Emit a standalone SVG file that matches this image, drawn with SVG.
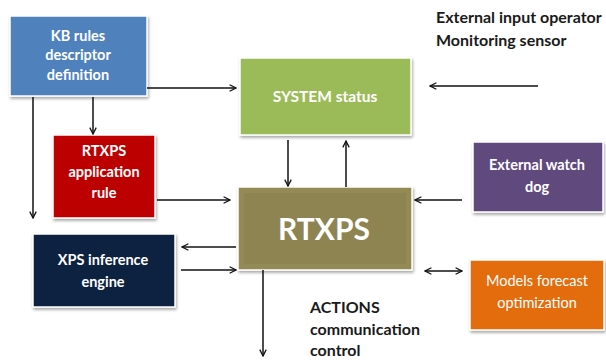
<svg xmlns="http://www.w3.org/2000/svg" width="606" height="360" viewBox="0 0 606 360">
<defs>
<filter id="sh" x="-10%" y="-10%" width="125%" height="130%">
<feGaussianBlur in="SourceAlpha" stdDeviation="1.5"/>
<feOffset dx="1" dy="2" result="b"/>
<feComponentTransfer><feFuncA type="linear" slope="0.35"/></feComponentTransfer>
<feMerge><feMergeNode/><feMergeNode in="SourceGraphic"/></feMerge>
</filter>
<marker id="ah" viewBox="0 0 10 10" refX="9" refY="5" markerWidth="8" markerHeight="8" orient="auto-start-reverse" markerUnits="userSpaceOnUse">
<path d="M1,1 L9,5 L1,9" fill="none" stroke="#111" stroke-width="1.6"/>
</marker>
</defs>
<style>
.box{stroke:#fff;stroke-width:1.5;filter:url(#sh)}
.t{font-family:Lato,"Open Sans","Liberation Sans",sans-serif;font-weight:bold;fill:#fff;text-anchor:middle}
.lbl{font-family:Lato,"Open Sans","Liberation Sans",sans-serif;font-weight:bold;fill:#1a1a1a;font-size:16px}
.c line, .c path{stroke:#111;stroke-width:1.5;fill:none}
</style>
<rect width="606" height="360" fill="#fff"/>

<g id="kb"><rect class="box" x="10" y="16" width="137" height="80" fill="#4f81bd"/>
<text class="t" font-size="14.5"><tspan x="78" y="41">KB rules</tspan><tspan x="78" y="60">descriptor</tspan><tspan x="78" y="80">definition</tspan></text></g>

<g id="system"><rect class="box" x="240" y="58" width="171" height="77" fill="#9bbb59"/>
<text class="t" font-size="15.5" x="325" y="102">SYSTEM status</text></g>

<g id="app"><rect class="box" x="53" y="135" width="102" height="83" fill="#c00000"/>
<rect x="57" y="139" width="94" height="75" fill="#b80000" opacity="0.5"/>
<text class="t" font-size="14.5"><tspan x="104" y="156">RTXPS</tspan><tspan x="104" y="177">application</tspan><tspan x="104" y="198">rule</tspan></text></g>

<g id="rtxps"><rect class="box" x="238" y="187" width="174" height="83" fill="#948a54"/>
<rect x="244" y="193" width="162" height="71" fill="#8a8050" opacity="0.6"/>
<text class="t" font-size="30" x="324" y="240">RTXPS</text></g>

<g id="xps"><rect class="box" x="33" y="234" width="142" height="73" fill="#10233f"/>
<text class="t" font-size="14.5"><tspan x="103" y="265">XPS inference</tspan><tspan x="103" y="287">engine</tspan></text></g>

<g id="watchdog"><rect class="box" x="473" y="142" width="130" height="70" fill="#604a7b"/>
<text class="t" font-size="14.5"><tspan x="537" y="170">External watch</tspan><tspan x="537" y="192">dog</tspan></text></g>

<g id="models"><rect class="box" x="470" y="260" width="134" height="70" fill="#e36c09"/>
<text class="t" font-size="14.5" style="font-weight:normal"><tspan x="537" y="286">Models forecast</tspan><tspan x="537" y="308">optimization</tspan></text></g>

<g id="labels">
<text class="lbl"><tspan x="436" y="23">External input operator</tspan><tspan x="436" y="46">Monitoring  sensor</tspan></text>
<text class="lbl"><tspan x="310" y="313">ACTIONS</tspan><tspan x="310" y="335">communication</tspan><tspan x="310" y="356">control</tspan></text>
</g>

<g class="c" id="connectors">
<path d="M147,88 H236" marker-end="url(#ah)"/>
<line x1="538" y1="86" x2="430" y2="86" marker-end="url(#ah)"/>
<line x1="33" y1="97" x2="33" y2="218" marker-end="url(#ah)"/>
<line x1="93" y1="97" x2="93" y2="134" marker-end="url(#ah)"/>
<line x1="157" y1="200" x2="230" y2="200" marker-end="url(#ah)"/>
<line x1="288" y1="140" x2="288" y2="186" marker-end="url(#ah)"/>
<line x1="346" y1="187" x2="346" y2="141" marker-end="url(#ah)"/>
<line x1="236" y1="247" x2="182" y2="247" marker-end="url(#ah)"/>
<line x1="181" y1="270" x2="236" y2="270" marker-end="url(#ah)"/>
<line x1="263" y1="270" x2="263" y2="356" marker-end="url(#ah)"/>
<line x1="462" y1="200" x2="415" y2="200" marker-end="url(#ah)"/>
<line x1="425" y1="271" x2="462" y2="271" marker-start="url(#ah)" marker-end="url(#ah)"/>
</g>
</svg>
